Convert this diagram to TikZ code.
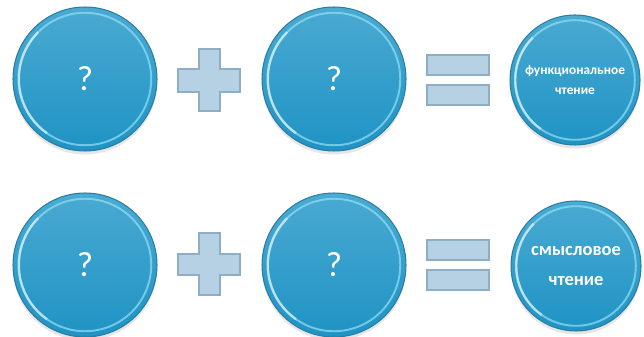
\documentclass[tikz,border=0pt]{standalone}
\usepackage{fontspec}
\setmainfont{Carlito}
\usetikzlibrary{shadows}
\definecolor{bubbletop}{HTML}{4AAAD2}
\definecolor{bubblebottom}{HTML}{1F93C4}
\definecolor{bubbleedge}{HTML}{2A7EA2}
\definecolor{bubbleglow}{HTML}{93E0F4}
\definecolor{signfill}{HTML}{B6D1E3}
\definecolor{signedge}{HTML}{8EAEC6}
\begin{document}
\begin{tikzpicture}[x=0.02cm, y=-0.02cm,
    bubble/.style={circle, inner sep=0pt, minimum size=#1, draw=bubbleedge, line width=0.6pt,
        top color=bubbletop, bottom color=bubblebottom, text=white, font=\bfseries, align=center,
        drop shadow={opacity=0.2, shadow xshift=0pt, shadow yshift=-2pt},
        path picture={
            \draw[bubbleglow, line width=1.1pt, opacity=0.7] (path picture bounding box.center) circle ({0.46*#1});
            \draw[white, line width=1.4pt, opacity=0.5] ([shift={(135:{0.46*#1})}]path picture bounding box.center) arc (135:235:{0.46*#1});
        }},
    bubble/.default=2.88cm,
    sign/.style={fill=signfill, draw=signedge, line width=0.6pt},
    ask/.style={font=\fontsize{20}{24}\selectfont}]
    \useasboundingbox (0,0) rectangle (644,337);

    % Top row
    \node[bubble, ask] (q1) at (85,79) {?};
    \node[bubble, ask] (q2) at (334,79) {?};
    \node[bubble=2.6cm, font=\bfseries\fontsize{7.6}{11}\selectfont] (func) at (575,80) {функциональное\\чтение};

    % Plus and equals, top row
    \draw[sign] (199,49) -- (220,49) -- (220,69) -- (240,69) -- (240,92) -- (220,92)
        -- (220,111) -- (199,111) -- (199,92) -- (178,92) -- (178,69) -- (199,69) -- cycle;
    \draw[sign] (427,55) rectangle (489,75);
    \draw[sign] (427,85) rectangle (489,105);

    % Bottom row
    \node[bubble, ask] (q3) at (85,265) {?};
    \node[bubble, ask] (q4) at (334,265) {?};
    \node[bubble=2.6cm, font=\bfseries\fontsize{10.5}{17}\selectfont] (sense) at (576,266) {смысловое\\чтение};

    % Plus and equals, bottom row
    \draw[sign] (199,233) -- (220,233) -- (220,254) -- (240,254) -- (240,275) -- (220,275)
        -- (220,295) -- (199,295) -- (199,275) -- (178,275) -- (178,254) -- (199,254) -- cycle;
    \draw[sign] (427,240) rectangle (489,260);
    \draw[sign] (427,270) rectangle (489,290);

\end{tikzpicture}
\end{document}
